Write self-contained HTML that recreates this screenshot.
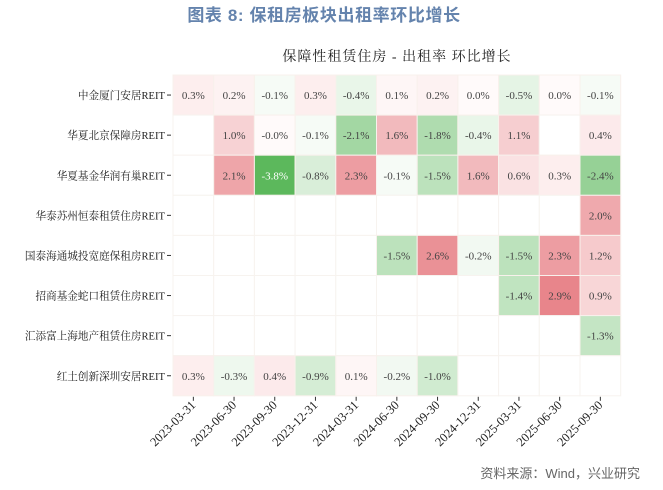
<!DOCTYPE html>
<html><head><meta charset="utf-8"><style>
body{margin:0;background:#fff;width:663px;height:485px;overflow:hidden}
</style></head><body>
<svg id="s" width="663" height="485" xmlns="http://www.w3.org/2000/svg">
<text x="324" y="21" text-anchor="middle" font-family="Liberation Sans,'Noto Sans CJK SC',sans-serif" font-size="17" font-weight="bold" fill="#6483ad" letter-spacing="0.6">图表 8:  保租房板块出租率环比增长</text>
<text x="397" y="61" text-anchor="middle" font-family="Liberation Serif,'Noto Serif CJK SC',serif" font-size="14" fill="#222" letter-spacing="1">保障性租赁住房 - 出租率 环比增长</text>
<text x="640" y="478" text-anchor="end" font-family="Liberation Sans,'Noto Sans CJK SC',sans-serif" font-size="13" fill="#666">资料来源：Wind，兴业研究</text>
<g id="g"></g>
</svg>
<script>
var N=null;
var rows=["中金厦门安居REIT","华夏北京保障房REIT","华夏基金华润有巢REIT","华泰苏州恒泰租赁住房REIT","国泰海通城投宽庭保租房REIT","招商基金蛇口租赁住房REIT","汇添富上海地产租赁住房REIT","红土创新深圳安居REIT"];
var cols=["2023-03-31","2023-06-30","2023-09-30","2023-12-31","2024-03-31","2024-06-30","2024-09-30","2024-12-31","2025-03-31","2025-06-30","2025-09-30"];
var d=[[0.3,0.2,-0.1,0.3,-0.4,0.1,0.2,0.0,-0.5,0.0,-0.1],
[N,1.0,-0.0,-0.1,-2.1,1.6,-1.8,-0.4,1.1,N,0.4],
[N,2.1,-3.8,-0.8,2.3,-0.1,-1.5,1.6,0.6,0.3,-2.4],
[N,N,N,N,N,N,N,N,N,N,2.0],
[N,N,N,N,N,-1.5,2.6,-0.2,-1.5,2.3,1.2],
[N,N,N,N,N,N,N,N,-1.4,2.9,0.9],
[N,N,N,N,N,N,N,N,N,N,-1.3],
[0.3,-0.3,0.4,-0.9,0.1,-0.2,-1.0,N,N,N,N]];
var x0=173,y0=75,cw=40.7,rh=40.1,h="";
function col(v){var t,a,w;if(v>=0){t=Math.min(v/3.8,1);a=[225,97,104];w=[255,250,250];}else{t=Math.min(-v/3.8,1);a=[92,184,92];w=[250,253,250];}
return "rgb("+Math.round(w[0]+(a[0]-w[0])*t)+","+Math.round(w[1]+(a[1]-w[1])*t)+","+Math.round(w[2]+(a[2]-w[2])*t)+")";}
for(var r=0;r<8;r++){for(var c=0;c<11;c++){var v=d[r][c],x=x0+c*cw,y=y0+r*rh;
if(v===N){h+='<rect x="'+x+'" y="'+y+'" width="'+cw+'" height="'+rh+'" fill="#fff" stroke="#f7f3ef" stroke-width="1"/>';}
else{h+='<rect x="'+x+'" y="'+y+'" width="'+cw+'" height="'+rh+'" fill="'+col(v)+'" stroke="#f8f1ec" stroke-width="1"/>';
var s=v.toFixed(1)+"%";if(r==1&&c==2)s="-0.0%";
h+='<text x="'+(x+cw/2)+'" y="'+(y+rh/2+4)+'" text-anchor="middle" font-family="Liberation Serif,serif" font-size="11" fill="'+(v<-3?"#fff":"#444")+'">'+s+'</text>';}}
var cy=y0+r*rh+rh/2;
h+='<text x="165" y="'+(cy+4)+'" text-anchor="end" font-family="Liberation Serif,\'Noto Serif CJK SC\',serif" font-size="10.6" fill="#222">'+rows[r]+'</text><line x1="167" x2="171" y1="'+cy+'" y2="'+cy+'" stroke="#333"/>';}
for(var c=0;c<11;c++){var cx=x0+c*cw+cw/2,by=y0+8*rh;
h+='<line x1="'+cx+'" x2="'+cx+'" y1="'+(by+1)+'" y2="'+(by+5)+'" stroke="#333"/>';
h+='<text transform="translate('+(cx+3)+','+(by+10)+') rotate(-45)" text-anchor="end" font-family="Liberation Serif,serif" font-size="12.5" fill="#222">'+cols[c]+'</text>';}
document.getElementById("g").innerHTML=h;
</script>
</body></html>
